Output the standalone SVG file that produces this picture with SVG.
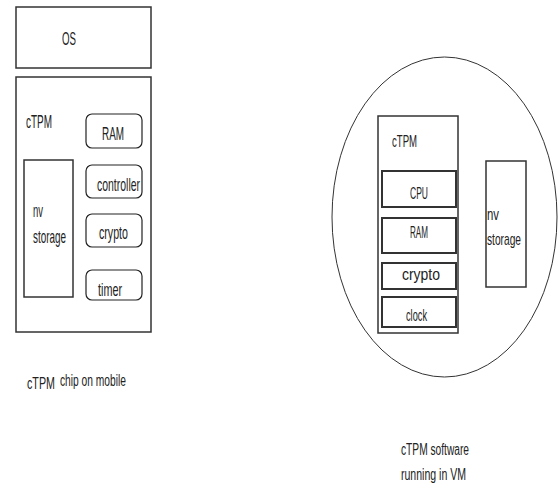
<svg xmlns="http://www.w3.org/2000/svg" width="558" height="489" viewBox="0 0 558 489">
<style>
text{font-family:"Liberation Sans Narrow","Liberation Sans",sans-serif;font-size:19px;fill:#222}
.s{font-size:17px}
.c{font-size:16px;font-family:"Liberation Sans",sans-serif}
.b{fill:none;stroke:#333;stroke-width:1.5}
.t{fill:none;stroke:#222;stroke-width:1.2}
.d{fill:none;stroke:#333;stroke-width:2}
</style>
<rect width="558" height="489" fill="#fff"/>
<g id="os"><rect class="b" x="16" y="7" width="135" height="61"/><text x="62" y="45" textLength="14" lengthAdjust="spacingAndGlyphs">OS</text></g>
<g id="ctpm-chip"><rect class="b" x="16" y="77" width="135" height="255"/><text x="26" y="128" textLength="26" lengthAdjust="spacingAndGlyphs">cTPM</text></g>
<g id="ram1"><rect class="t" x="86" y="114" width="56" height="34" rx="6"/><text x="102" y="140" textLength="22" lengthAdjust="spacingAndGlyphs">RAM</text></g>
<g id="controller"><rect class="t" x="86" y="165" width="56" height="33" rx="6"/><text x="97" y="191" textLength="43" lengthAdjust="spacingAndGlyphs">controller</text></g>
<g id="crypto1"><rect class="t" x="86" y="214" width="56" height="33" rx="6"/><text x="99" y="239" textLength="29" lengthAdjust="spacingAndGlyphs">crypto</text></g>
<g id="timer"><rect class="t" x="86" y="270" width="56" height="30" rx="6"/><text x="98" y="296" textLength="24" lengthAdjust="spacingAndGlyphs">timer</text></g>
<g id="nv1"><rect class="b" x="24" y="160" width="49" height="137"/><text x="33" y="217" textLength="10" lengthAdjust="spacingAndGlyphs">nv</text><text x="33" y="243" textLength="33" lengthAdjust="spacingAndGlyphs">storage</text></g>
<g id="cap1"><text class="c" transform="translate(27,389) scale(0.65,1)" textLength="43" lengthAdjust="spacingAndGlyphs">cTPM</text><text class="c" transform="translate(60,386) scale(0.65,1)" textLength="101.5" lengthAdjust="spacingAndGlyphs">chip on mobile</text></g>
<g id="vm"><ellipse cx="444.5" cy="217" rx="112.5" ry="160" fill="none" stroke="#333" stroke-width="1"/></g>
<g id="ctpm-sw"><rect class="b" x="378" y="116" width="80" height="217"/><text class="s" x="392" y="147" textLength="25" lengthAdjust="spacingAndGlyphs">cTPM</text></g>
<g id="cpu"><rect class="d" x="382" y="171" width="74" height="36"/><text class="s" x="410" y="199" textLength="18" lengthAdjust="spacingAndGlyphs">CPU</text></g>
<g id="ram2"><rect class="d" x="382" y="218" width="74" height="35"/><text class="s" x="410" y="238" textLength="18" lengthAdjust="spacingAndGlyphs">RAM</text></g>
<g id="crypto2"><rect class="d" x="382" y="263" width="74" height="26"/><text class="s" x="402" y="280" textLength="38" lengthAdjust="spacingAndGlyphs">crypto</text></g>
<g id="clock"><rect class="d" x="382" y="297" width="74" height="30"/><text class="s" x="406" y="321" textLength="21" lengthAdjust="spacingAndGlyphs">clock</text></g>
<g id="nv2"><rect class="b" x="486" y="161" width="40" height="126"/><text class="s" x="487" y="220" textLength="12" lengthAdjust="spacingAndGlyphs">nv</text><text class="s" x="487" y="245" textLength="34" lengthAdjust="spacingAndGlyphs">storage</text></g>
<g id="cap2"><text class="c" x="401" y="455" textLength="68" lengthAdjust="spacingAndGlyphs">cTPM software</text><text class="c" x="401" y="480" textLength="65" lengthAdjust="spacingAndGlyphs">running in VM</text></g>
<g id="connectors"></g>
</svg>
